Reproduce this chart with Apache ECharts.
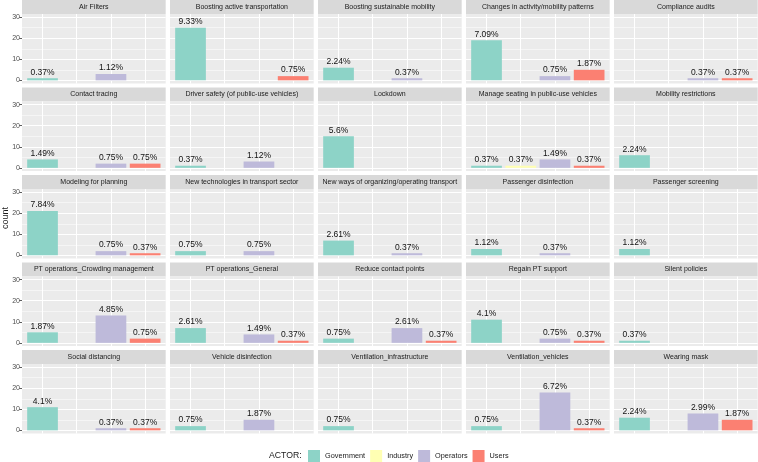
<!DOCTYPE html>
<html>
<head>
<meta charset="utf-8">
<script src="https://cdn.jsdelivr.net/npm/echarts@6/dist/echarts.min.js"></script>
<style>
html,body{margin:0;padding:0;background:#fff;}
#chart{width:758px;height:462px;}
</style>
</head>
<body>
<div id="chart"></div>
<script>
const facets = [
  'Air Filters','Boosting active transportation','Boosting sustainable mobility','Changes in activity/mobility patterns','Compliance audits',
  'Contact tracing','Driver safety (of public-use vehicles)','Lockdown','Manage seating in public-use vehicles','Mobility restrictions',
  'Modeling for planning','New technologies in transport sector','New ways of organizing/operating transport','Passenger disinfection','Passenger screening',
  'PT operations_Crowding management','PT operations_General','Reduce contact points','Regain PT support','Silent policies',
  'Social distancing','Vehicle disinfection','Ventilation_infrastructure','Ventilation_vehicles','Wearing mask'
];
const actors = ['Government','Industry','Operators','Users'];
const government = [1,25,6,19,null,4,1,15,1,6,21,2,7,3,3,5,7,2,11,1,11,2,2,2,6];
const industry   = [null,null,null,null,null,null,null,null,1,null,null,null,null,null,null,null,null,null,null,null,null,null,null,null,null];
const operators  = [3,null,1,2,1,2,3,null,4,null,2,2,1,1,null,13,4,7,2,null,1,5,null,18,8];
const users      = [null,2,null,5,1,2,null,null,1,null,1,null,null,null,null,2,1,1,1,null,1,null,null,1,5];
const yTicks = [0,10,20,30];
const yMinorTicks = [5,15,25];

const colors = ['#8DD3C7','#FFFFB3','#BEBADA','#FB8072'];
const seriesByActor = [government, industry, operators, users];
const total = seriesByActor.reduce((s, arr) => s + arr.reduce((a, v) => a + (v || 0), 0), 0);
const fmtPct = v => String(Number((v / total * 100).toFixed(2))) + '%';

const FONT = 'Liberation Sans, Arial, sans-serif';
const colLeft0 = 22, colPitch = 148, panelW = 143.67;
const rowPitch = 87.5, stripH = 14, plotH = 69.5;

const grids = [], xAxes = [], yAxes = [], series = [], graphics = [];
facets.forEach((name, p) => {
  const c = p % 5, r = Math.floor(p / 5);
  const left = colLeft0 + c * colPitch;
  const top = r * rowPitch;
  graphics.push({type:'rect', shape:{x:left, y:top, width:panelW, height:stripH}, style:{fill:'#D9D9D9'}, silent:true, z:-1});
  graphics.push({type:'text', x:left + panelW/2, y:top + stripH/2, style:{text:name, font:'7px ' + FONT, fill:'#1A1A1A', textAlign:'center', textVerticalAlign:'middle'}, silent:true});
  grids.push({left:left, top:top + stripH, width:panelW, height:plotH, show:true, backgroundColor:'#EBEBEB', borderWidth:0});
  xAxes.push({type:'value', gridIndex:p, min:0.4, max:4.6, axisLine:{show:false}, axisTick:{show:false}, axisLabel:{show:false}, splitLine:{show:false}});
  yAxes.push({type:'value', gridIndex:p, min:-1.5, max:31.5, axisLine:{show:false},
    axisTick:{show:c === 0, length:2.7, lineStyle:{color:'#333333', width:0.8}, customValues:yTicks},
    axisLabel:{show:c === 0, customValues:yTicks, fontSize:7, color:'#4D4D4D', margin:2, fontFamily:FONT},
    splitLine:{show:false}});
  const ml = [];
  [1,2,3,4].forEach(x => ml.push({xAxis:x, lineStyle:{color:'#FFFFFF', width:1, type:'solid'}}));
  yTicks.forEach(y => ml.push({yAxis:y, lineStyle:{color:'#FFFFFF', width:1, type:'solid'}}));
  yMinorTicks.forEach(y => ml.push({yAxis:y, lineStyle:{color:'#FFFFFF', width:0.5, type:'solid'}}));
  series.push({type:'line', xAxisIndex:p, yAxisIndex:p, data:[], silent:true, z:1,
    markLine:{silent:true, z:1, symbol:['none','none'], label:{show:false}, animation:false, data:ml}});
  actors.forEach((a, i) => {
    const v = seriesByActor[i][p];
    series.push({type:'bar', name:a, xAxisIndex:p, yAxisIndex:p, barWidth:30.7, barGap:'-100%', z:2,
      itemStyle:{color:colors[i]},
      data: v == null ? [] : [[i + 1, v]],
      label:{show:true, position:'top', distance:1.5, fontSize:8.5, color:'#111', fontFamily:FONT,
        formatter: prm => fmtPct(prm.value[1])}});
  });
});

graphics.push({type:'text', x:6, y:218, rotation:Math.PI/2, style:{text:'count', font:'9px ' + FONT, fill:'#1A1A1A', textAlign:'center', textVerticalAlign:'middle'}, silent:true});
graphics.push({type:'text', x:269, y:456, style:{text:'ACTOR:', font:'8.7px ' + FONT, fill:'#1A1A1A', textAlign:'left', textVerticalAlign:'middle'}, silent:true});

const chart = echarts.init(document.getElementById('chart'), null, {renderer:'canvas'});
chart.setOption({
  animation:false,
  backgroundColor:'#FFFFFF',
  grid:grids, xAxis:xAxes, yAxis:yAxes, series:series,
  graphic:graphics,
  legend:{data:actors, left:308, top:450, itemWidth:12, itemHeight:12, itemGap:5, icon:'rect', selectedMode:false,
    textStyle:{fontSize:7.3, color:'#1A1A1A', fontFamily:FONT}, padding:0}
});
</script>
</body>
</html>
